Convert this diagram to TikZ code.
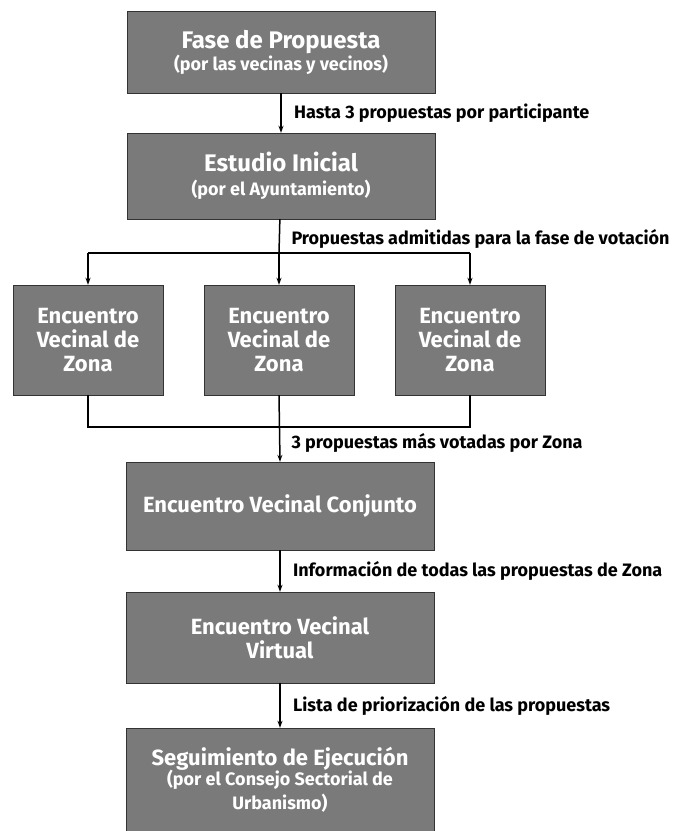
\documentclass[tikz,border=0pt]{standalone}
\usepackage{fontspec}
\setmainfont{Fira Sans}
\usetikzlibrary{arrows.meta}

\newcommand{\subtit}{\fontsize{18}{21}\selectfont}
\newcommand{\grande}{\fontsize{24}{25}\selectfont}
\tikzset{
	etapa/.style={draw=black!80, fill=black!52, text=white, align=center,
		font=\bfseries\fontsize{22}{24}\selectfont,
		minimum width=308, minimum height=82, inner sep=0pt},
	zona/.style={etapa, minimum width=150, minimum height=110},
	rotulo/.style={right, font=\bfseries\fontsize{18}{21}\selectfont},
	linea/.style={line width=1.5pt},
	flecha/.style={linea, -{Stealth[length=7pt,width=5pt]}}
}

\begin{document}
\begin{tikzpicture}[x=1pt,y=-1pt]
		\useasboundingbox (0,0) rectangle (677,831);

		\node[etapa] (fase) at (281,52) {\grande Fase de Propuesta\\[-2pt]\subtit (por las vecinas y vecinos)};
		\node[etapa, minimum height=86] (estudio) at (281,176) {\grande Estudio Inicial\\[0pt]\subtit (por el Ayuntamiento)};

		\node[zona] (zonaA) at (88,340) {Encuentro\\Vecinal de\\Zona};
		\node[zona] (zonaB) at (279,340) {Encuentro\\Vecinal de\\Zona};
		\node[zona] (zonaC) at (470,340) {Encuentro\\Vecinal de\\Zona};

		\node[etapa, minimum height=88] (conjunto) at (280,506) {Encuentro Vecinal Conjunto};
		\node[etapa, minimum height=91] (virtual) at (280,637.5) {Encuentro Vecinal\\Virtual};
		\node[etapa, minimum height=104] (seguim) at (280,780) {Seguimiento de Ejecución\\[-4pt]\subtit (por el Consejo Sectorial de\\\subtit Urbanismo)};

		% reparto a las zonas
		\coordinate (reparto) at (279,253);
		\coordinate (reunion) at (279,427);

		\draw[flecha] (fase) -- (estudio) node[midway, rotulo, xshift=9pt]{Hasta 3 propuestas por participante};
		\draw[linea] (estudio) -- (reparto);
		\node[rotulo] (admitidas) at (288,239) {Propuestas admitidas para la fase de votación};
		\draw[linea] (zonaA.north |- reparto) -- (zonaC.north |- reparto);
		\draw[flecha] (zonaA.north |- reparto) -- (zonaA.north);
		\draw[flecha] (reparto) -- (zonaB.north);
		\draw[flecha] (zonaC.north |- reparto) -- (zonaC.north);

		\draw[linea] (zonaA.south) -- (zonaA.south |- reunion) -- (zonaC.south |- reunion) -- (zonaC.south);
		\draw[flecha] (zonaB.south) -- (conjunto.north);
		\node[rotulo] (votadas) at (288,443) {3 propuestas más votadas por Zona};

		\draw[flecha] (conjunto) -- (virtual) node[midway, rotulo, xshift=9pt]{Información de todas las propuestas de Zona};
		\draw[flecha] (virtual) -- (seguim) node[midway, rotulo, xshift=9pt]{Lista de priorización de las propuestas};
	\end{tikzpicture}
\end{document}
